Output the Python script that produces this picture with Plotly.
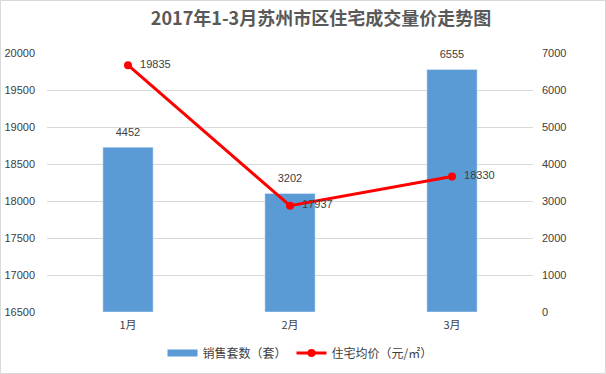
import plotly.graph_objects as go

months = ["1月", "2月", "3月"]
sales = [4452, 3202, 6555]
price = [19835, 17937, 18330]
left_ticks = [16500, 17000, 17500, 18000, 18500, 19000, 19500, 20000]
right_ticks = [0, 1000, 2000, 3000, 4000, 5000, 6000, 7000]

W, H = 606, 374
ML, MR, MT, MB = 47, 73, 53, 62
pw = W - ML - MR
ph = H - MT - MB

FONT = "Liberation Sans, Noto Sans CJK SC, sans-serif"
CJK = "Noto Sans CJK SC, sans-serif"
BLUE = "#5B9BD5"
RED = "#FF0000"
TXT = "#404040"

fig = go.Figure()
fig.add_trace(go.Bar(
    x=months, y=sales, yaxis="y", marker_color=BLUE, showlegend=False,
    name="销售套数（套）",
))
# bar value labels
fig.add_trace(go.Scatter(
    x=months, y=sales, yaxis="y", mode="markers+text",
    marker=dict(size=12, opacity=0), showlegend=False, hoverinfo="skip",
    text=[str(v) for v in sales], textposition="top center",
    textfont=dict(size=11, color=TXT, family=FONT), cliponaxis=False,
))
# legend entry for the bars (wide rectangle look)
fig.add_trace(go.Scatter(
    x=[None], y=[None], mode="lines", line=dict(color=BLUE, width=7),
    name="销售套数（套）",
))
fig.add_trace(go.Scatter(
    x=months, y=price, yaxis="y2", mode="lines+markers+text",
    line=dict(color=RED, width=3), marker=dict(color=RED, size=8),
    text=["  " + str(v) for v in price], textposition="middle right",
    textfont=dict(size=11, color=TXT, family=FONT), cliponaxis=False,
    name="住宅均价（元/㎡）",
))

fig.update_layout(
    width=W, height=H,
    margin=dict(l=ML, r=MR, t=MT, b=MB),
    paper_bgcolor="white", plot_bgcolor="white",
    bargap=0.69,
    font=dict(family=FONT, size=11, color="#404040"),
    title=dict(text="<b>2017年1-3月苏州市区住宅成交量价走势图</b>",
               x=321 / W, xanchor="center", xref="container",
               y=1 - 19 / H, yanchor="middle", yref="container",
               font=dict(family=CJK, size=18, color="#595959")),
    xaxis=dict(showgrid=False, showline=False, ticks="", ticklabelstandoff=5,
               automargin=False,
               tickfont=dict(family=CJK, size=11, color=TXT)),
    yaxis=dict(range=[0, 7000], tickvals=right_ticks,
               ticktext=[str(v) for v in right_ticks], side="right",
               showgrid=True, gridcolor="#D9D9D9", gridwidth=1,
               zeroline=False, showline=False, ticklabelstandoff=8,
               automargin=False,
               tickfont=dict(size=11, color=TXT)),
    yaxis2=dict(range=[16500, 20000], tickvals=left_ticks,
                ticktext=[str(v) for v in left_ticks],
                overlaying="y", side="left", showgrid=False,
                zeroline=False, showline=False, ticklabelstandoff=11,
                automargin=False,
                tickfont=dict(size=11, color=TXT)),
    legend=dict(orientation="h", xref="container", yref="container",
                x=300 / W, xanchor="center", y=1 - 353 / H, yanchor="middle",
                font=dict(family=CJK, size=12, color=TXT),
                itemwidth=30, bgcolor="rgba(0,0,0,0)"),
    shapes=[dict(type="rect", xref="paper", yref="paper",
                 x0=-(ML - 0.5) / pw, x1=(W - ML - 0.5) / pw,
                 y0=-(MB - 0.5) / ph, y1=(H - MB - 0.5) / ph,
                 line=dict(color="#D9D9D9", width=1), layer="below")],
)

fig.write_html("out.html")
